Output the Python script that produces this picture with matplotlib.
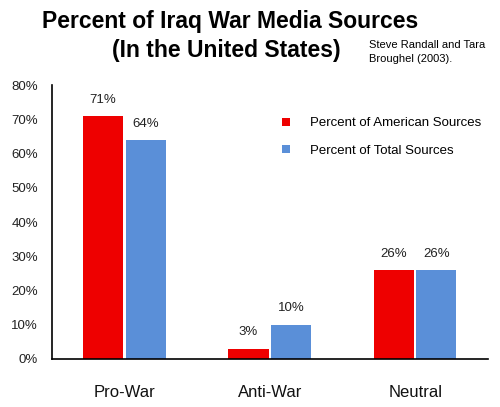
import matplotlib
matplotlib.use("Agg")
import matplotlib.pyplot as plt
import numpy as np

categories = ["Pro-War", "Anti-War", "Neutral"]
american = [71, 3, 26]
total = [64, 10, 26]
yticks = [0, 10, 20, 30, 40, 50, 60, 70, 80]

plt.rcParams['font.family'] = ['Liberation Sans', 'DejaVu Sans']

red = "#EE0000"
blue = "#5A8FD8"

fig = plt.figure(figsize=(5.0, 4.07), dpi=100)
ax = fig.add_axes([0.104, 0.118, 0.872, 0.673])

x = np.arange(len(categories))
w = 0.276
b1 = ax.bar(x - 0.148, american, w, color=red, label="Percent of American Sources")
b2 = ax.bar(x + 0.145, total, w, color=blue, label="Percent of Total Sources")

for bars, vals in ((b1, american), (b2, total)):
    for rect, v in zip(bars, vals):
        ax.text(rect.get_x() + rect.get_width() / 2, v + 3, "%d%%" % v,
                ha="center", va="bottom", fontsize=9.5, color="#222222")

ax.set_xlim(-0.5, 2.5)
ax.set_ylim(0, 80)
ax.set_yticks(yticks)
ax.set_yticklabels(["%d%%" % t for t in yticks], fontsize=9.5, color="#222222")
ax.set_xticks(x)
ax.set_xticklabels(categories, fontsize=12, color="#111111")
ax.tick_params(axis="both", length=0)
ax.tick_params(axis="y", pad=10)
ax.tick_params(axis="x", pad=19)
for s in ("top", "right"):
    ax.spines[s].set_visible(False)
ax.spines["left"].set_linewidth(1.2)
ax.spines["bottom"].set_linewidth(1.2)

leg = ax.legend(loc="upper left", bbox_to_anchor=(0.50, 0.925), frameon=False,
                fontsize=9.5, handlelength=0.6, handleheight=0.6,
                handletextpad=1.5, labelspacing=1.15)

fig.text(0.46, 0.948, "Percent of Iraq War Media Sources", ha="center", va="center",
         fontsize=16.5, fontweight="bold")
fig.text(0.452, 0.875, "(In the United States)", ha="center", va="center",
         fontsize=16.5, fontweight="bold")
fig.text(0.738, 0.872, "Steve Randall and Tara\nBroughel (2003).", ha="left", va="center",
         fontsize=8, linespacing=1.6)

fig.savefig("out.png", dpi=100)
